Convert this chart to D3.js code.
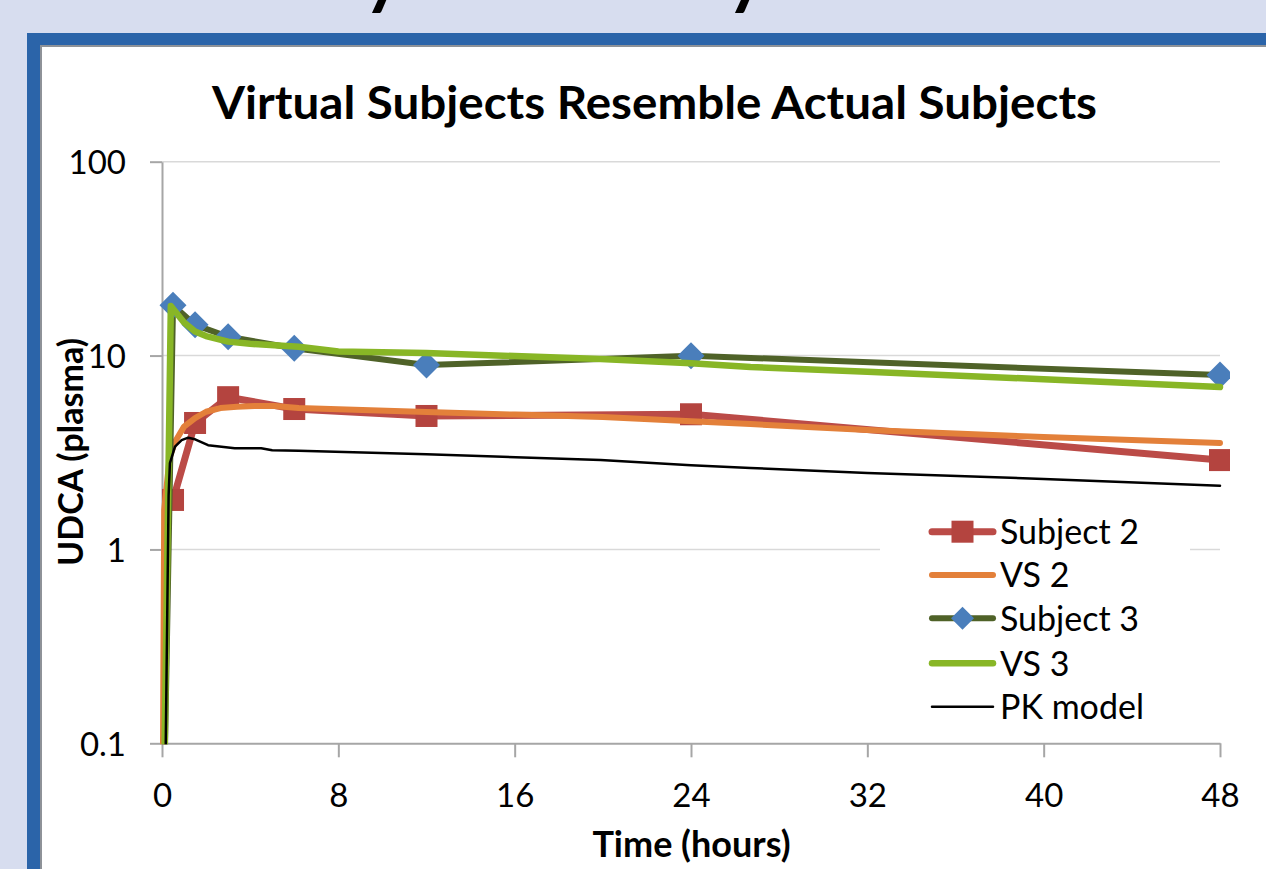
<!DOCTYPE html>
<html>
<head>
<meta charset="utf-8">
<script src="https://cdn.jsdelivr.net/npm/d3@7"></script>
<style>
  html, body { margin: 0; padding: 0; background: #d7ddef; }
  svg { display: block; }
  text { font-family: Lato, "Open Sans", sans-serif; fill: #000; }
</style>
</head>
<body>
<svg id="chart" width="1266" height="869"></svg>
<script>
// ---- data ----
const chartTitle = "Virtual Subjects Resemble Actual Subjects";
const xAxisTitle = "Time (hours)";
const yAxisTitle = "UDCA (plasma)";
const xTicks = [0, 8, 16, 24, 32, 40, 48];
const yTicks = [0.1, 1, 10, 100];
const yTickLabels = ["0.1", "1", "10", "100"];
const seriesNames = ["Subject 2", "VS 2", "Subject 3", "VS 3", "PK model"];

const subject2Times  = [0.5, 1.5, 3, 6, 12, 24, 48];
const subject2Values = [1.80, 4.49, 6.1, 5.3, 4.88, 4.98, 2.89];

const vs2Times  = [0, 0.1, 0.35, 0.6, 1, 1.5, 2, 2.65, 3.4, 4.2, 5.1, 6.2, 8, 12, 16, 20, 24, 26.7, 32, 40, 48];
const vs2Values = [0.01, 1.6, 3.0, 3.6, 4.3, 4.76, 5.13, 5.36, 5.44, 5.49, 5.49, 5.36, 5.28, 5.11, 4.96, 4.82, 4.59, 4.43, 4.13, 3.80, 3.54];

const subject3Times  = [0, 0.5, 1.5, 3, 6, 12, 24, 48];
const subject3Values = [0.013, 18.2, 14.4, 12.5, 10.9, 8.93, 9.98, 7.93];

const vs3Times  = [0, 0.4, 0.8, 1, 1.5, 2, 3, 4, 6.2, 8, 12, 16, 19.9, 24, 26.7, 32, 40, 48];
const vs3Values = [0.01, 18, 15.8, 14.8, 13.3, 12.6, 11.8, 11.5, 11.1, 10.5, 10.3, 9.94, 9.6, 9.14, 8.73, 8.25, 7.55, 6.88];

const pkTimes  = [0.1, 0.3, 0.36, 0.59, 0.89, 1.19, 1.5, 2.09, 2.7, 3.3, 4.5, 5, 6.2, 12, 19.9, 24, 26.7, 32, 40, 48];
const pkValues = [0.02, 1.9, 2.79, 3.39, 3.66, 3.77, 3.70, 3.45, 3.39, 3.33, 3.33, 3.25, 3.23, 3.1, 2.89, 2.72, 2.63, 2.48, 2.31, 2.13];

// ---- styles ----
const styles = [
  { color: "#bb4b47", width: 7,   marker: "square",  markerColor: "#b4443f" },
  { color: "#e3803a", width: 6,   marker: null },
  { color: "#4f6228", width: 6,   marker: "diamond", markerColor: "#4a7ebb" },
  { color: "#88b626", width: 6.5, marker: null },
  { color: "#000000", width: 2.5, marker: null }
];
const seriesData = [
  subject2Times.map((t, i) => ({ t, v: subject2Values[i] })),
  vs2Times.map((t, i) => ({ t, v: vs2Values[i] })),
  subject3Times.map((t, i) => ({ t, v: subject3Values[i] })),
  vs3Times.map((t, i) => ({ t, v: vs3Values[i] })),
  pkTimes.map((t, i) => ({ t, v: pkValues[i] }))
];

const svg = d3.select("#chart");

// background frame
svg.append("rect").attr("x", 0).attr("y", 0).attr("width", 1266).attr("height", 869).attr("fill", "#d7ddef");
// cut-off header letters at top (only their descenders show)
svg.append("text").attr("x", 385).attr("y", -4).attr("text-anchor", "middle")
   .style("font-size", "100px").text("y");
svg.append("text").attr("x", 748).attr("y", -4).attr("text-anchor", "middle")
   .style("font-size", "100px").text("y");
svg.append("rect").attr("x", 27).attr("y", 33).attr("width", 1300).attr("height", 900).attr("fill", "#2b64a9");
svg.append("rect").attr("x", 40).attr("y", 45).attr("width", 1300).attr("height", 900).attr("fill", "#8e9298");
svg.append("rect").attr("x", 42).attr("y", 47).attr("width", 1300).attr("height", 900).attr("fill", "#ffffff");

// scales
const x = d3.scaleLinear().domain([0, 48]).range([162, 1220]);
const y = d3.scaleLog().domain([0.1, 100]).range([743.3, 161.7]);

// gridlines
svg.append("g").selectAll("line").data(yTicks.filter(d => d > 0.1)).join("line")
  .attr("x1", x(0)).attr("x2", x(48))
  .attr("y1", d => y(d)).attr("y2", d => y(d))
  .attr("stroke", "#d9d9d9").attr("stroke-width", 1.5);

// y axis
const yAxis = svg.append("g").attr("transform", `translate(${x(0)},0)`)
  .call(d3.axisLeft(y).tickValues(yTicks).tickFormat((d, i) => yTickLabels[i]).tickSizeInner(12).tickSizeOuter(0).tickPadding(24));
yAxis.select(".domain").attr("stroke", "#a6a6a6").attr("stroke-width", 2);
yAxis.selectAll(".tick line").attr("stroke", "#a6a6a6").attr("stroke-width", 2);
yAxis.selectAll(".tick text").style("font-size", "33px").style("font-family", "Lato").attr("dy", "0.36em").attr("fill", "#000");

// x axis
const xAxis = svg.append("g").attr("transform", `translate(0,${y(0.1)})`)
  .call(d3.axisBottom(x).tickValues(xTicks).tickFormat(d => d).tickSizeInner(14).tickSizeOuter(0));
xAxis.select(".domain").attr("stroke", "#a6a6a6").attr("stroke-width", 2);
xAxis.selectAll(".tick line").attr("stroke", "#a6a6a6").attr("stroke-width", 2);
xAxis.selectAll(".tick text").style("font-size", "33px").style("font-family", "Lato")
  .attr("y", 807 - 743.3).attr("dy", 0).attr("fill", "#000");

// clip
svg.append("clipPath").attr("id", "plotclip").append("rect")
  .attr("x", x(0) - 10).attr("y", y(100) - 10).attr("width", x(48) - x(0) + 20).attr("height", y(0.1) - y(100) + 11);

const line = d3.line().x(d => x(d.t)).y(d => y(d.v));
const plot = svg.append("g").attr("clip-path", "url(#plotclip)");

function drawMarker(sel, type, color, size) {
  if (type === "square") {
    sel.append("rect").attr("x", -size / 2).attr("y", -size / 2).attr("width", size).attr("height", size).attr("fill", color);
  } else if (type === "diamond") {
    const h = size / 2;
    sel.append("path").attr("d", `M0,${-h}L${h},0L0,${h}L${-h},0Z`).attr("fill", color);
  }
}

seriesData.forEach((data, i) => {
  const s = styles[i];
  plot.append("path").datum(data).attr("d", line)
    .attr("fill", "none").attr("stroke", s.color).attr("stroke-width", s.width)
    .attr("stroke-linejoin", "round").attr("stroke-linecap", "round");
  if (s.marker) {
    data.filter(d => d.v >= 0.1).forEach(d => {
      const g = plot.append("g").attr("transform", `translate(${x(d.t)},${y(d.v)})`);
      drawMarker(g, s.marker, s.markerColor, s.marker === "square" ? 22 : 27);
    });
  }
});

// title
svg.append("text").attr("x", 654.5).attr("y", 119).attr("text-anchor", "middle")
  .attr("textLength", 885).attr("lengthAdjust", "spacingAndGlyphs")
  .style("font-size", "45px").style("font-weight", "bold").text(chartTitle);

// axis titles
svg.append("text").attr("transform", "translate(83,452) rotate(-90)").attr("text-anchor", "middle")
  .style("font-size", "34px").style("font-weight", "bold").text(yAxisTitle);
svg.append("text").attr("x", 691.5).attr("y", 857).attr("text-anchor", "middle")
  .style("font-size", "36px").style("font-weight", "bold").text(xAxisTitle);

// legend
const legend = svg.append("g");
legend.append("rect").attr("x", 880).attr("y", 505).attr("width", 310).attr("height", 225).attr("fill", "#ffffff");
const legendY = [531.7, 575, 618.3, 663.3, 706.7];
seriesNames.forEach((name, i) => {
  const s = styles[i];
  const g = legend.append("g").attr("transform", `translate(0,${legendY[i]})`);
  g.append("line").attr("x1", 932).attr("x2", 993).attr("y1", 0).attr("y2", 0)
    .attr("stroke", s.color).attr("stroke-width", s.width).attr("stroke-linecap", "round");
  if (s.marker) {
    const m = g.append("g").attr("transform", "translate(962.5,0)");
    drawMarker(m, s.marker, s.markerColor, s.marker === "square" ? 22 : 23);
  }
  g.append("text").attr("x", 1000).attr("y", 0).attr("dy", "0.36em")
    .style("font-size", "34px").text(name);
});
</script>
</body>
</html>
